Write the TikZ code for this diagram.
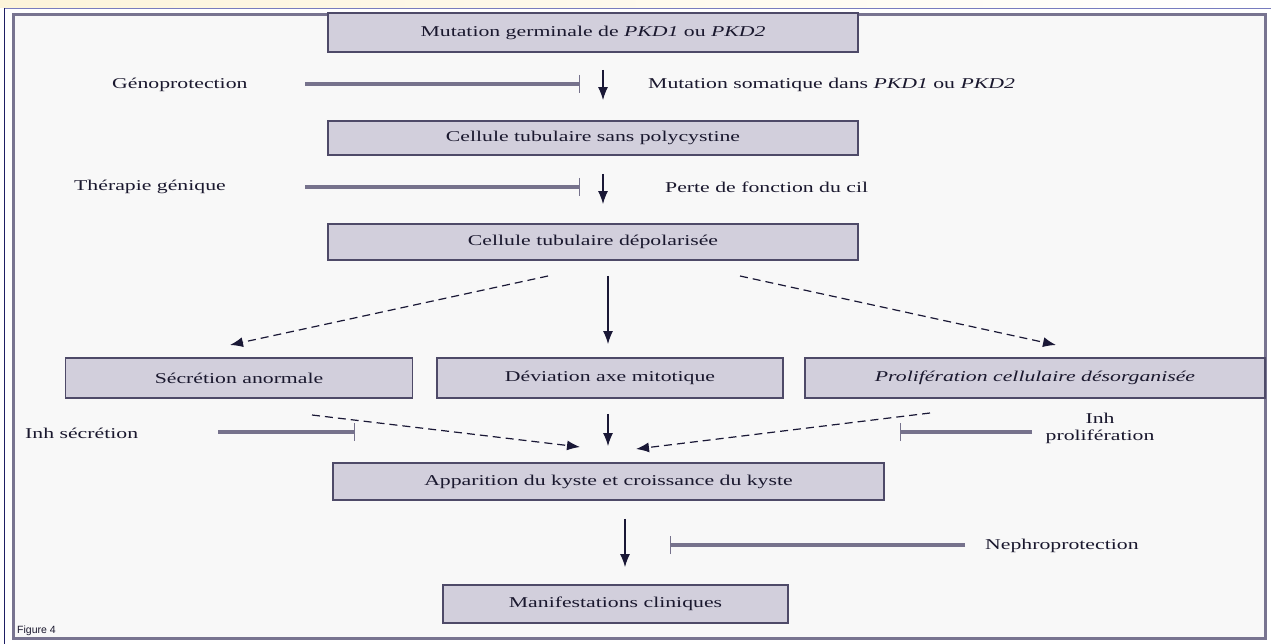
\documentclass[tikz,border=0pt]{standalone}
\usepackage{fontspec}
\setmainfont[FakeStretch=1.45]{Liberation Serif}
\setsansfont{Liberation Sans}
\usetikzlibrary{arrows.meta}
\definecolor{topy}{RGB}{252,244,218}
\definecolor{topblue}{RGB}{120,124,190}
\definecolor{navy}{RGB}{30,30,100}
\definecolor{framec}{RGB}{120,116,144}
\definecolor{bg}{RGB}{248,248,248}
\definecolor{boxfill}{RGB}{210,207,220}
\definecolor{boxline}{RGB}{78,74,104}
\definecolor{txt}{RGB}{26,24,46}
\definecolor{arrc}{RGB}{26,24,54}
\definecolor{inhc}{RGB}{118,114,140}
\tikzset{
  box/.style={draw=boxline, fill=boxfill, line width=1.8pt, inner sep=0pt, text=txt, font=\fontsize{15}{17}\selectfont},
  lab/.style={inner sep=0pt, text=txt, font=\fontsize{15}{17}\selectfont},
  arr/.style={draw=arrc, line width=1.2pt, -{Latex[length=13pt,width=10pt]}},
  darr/.style={arr, dash pattern=on 8pt off 5pt},
  inh/.style={draw=inhc, line width=3.2pt, -{Bar[width=18pt,line width=1.3pt]}},
}
\begin{document}
\begin{tikzpicture}[x=1pt,y=-1pt]
\useasboundingbox (0,0) rectangle (1271,644);
\fill[white] (0,0) rectangle (1271,644);
\shade[left color=topy, right color=white] (0,0) rectangle (1271,8);
\draw[topblue, line width=1.2pt] (4,8.5) -- (1271,8.5);
\draw[navy, line width=1.5pt] (4.5,8) -- (4.5,644);
\draw[framec, line width=3.2pt, fill=bg] (13.5,14.5) rectangle (1265.5,638.5);

% boxes
\node[box, minimum width=530pt, minimum height=39pt] (b1) at (593,32.5) {Mutation germinale de \textit{PKD1} ou \textit{PKD2}};
\node[box, minimum width=530pt, minimum height=34pt] (b2) at (593,138) {Cellule tubulaire sans polycystine};
\node[box, minimum width=530pt, minimum height=36pt] (b3) at (593,242) {Cellule tubulaire dépolarisée};
\node[box, minimum width=347pt, minimum height=40pt] (b4) at (239,378) {Sécrétion anormale};
\node[box, minimum width=346pt, minimum height=40pt] (b5) at (610,378) {Déviation axe mitotique};
\node[box, minimum width=460pt, minimum height=40pt] (b6) at (1035,378) {\textit{Prolifération cellulaire désorganisée}};
\node[box, minimum width=551pt, minimum height=37pt] (b7) at (608.5,481.5) {Apparition du kyste et croissance du kyste};
\node[box, minimum width=345pt, minimum height=38pt] (b8) at (615.5,604) {Manifestations cliniques};

% labels
\node[lab, anchor=west] (geno) at (112,85) {Génoprotection};
\node[lab, anchor=west] (msom) at (648,85) {Mutation somatique dans \textit{PKD1} ou \textit{PKD2}};
\node[lab, anchor=west] (ther) at (74,187) {Thérapie génique};
\node[lab, anchor=west] (perte) at (665,187) {Perte de fonction du cil};
\node[lab, anchor=west] (inhs) at (25,433) {Inh sécrétion};
\node[lab, align=center] (inhp) at (1100,428) {Inh\\prolifération};
\node[lab, anchor=west] (nephro) at (985,546) {Nephroprotection};
\node[inner sep=0pt, anchor=west, text=txt, font=\sffamily\fontsize{10.5}{12}\selectfont] (fig) at (17,631) {Figure 4};

% coordinates for inhibitor lines and dashed arrows
\coordinate (g1) at (305,84);   \coordinate (g2) at (580,84);
\coordinate (t1) at (305,187);  \coordinate (t2) at (580,187);
\coordinate (s1) at (218,432);  \coordinate (s2) at (355,432);
\coordinate (p1) at (1032,432); \coordinate (p2) at (900,432);
\coordinate (n1) at (965,545);  \coordinate (n2) at (670,545);
\coordinate (dl1) at (548,276); \coordinate (dl2) at (230,345);
\coordinate (dr1) at (740,276); \coordinate (dr2) at (1056,345);
\coordinate (ds1) at (312,415); \coordinate (ds2) at (580,447);
\coordinate (dp1) at (930,413); \coordinate (dp2) at (636,449);

% main arrows
\draw[arr, shorten <=17pt, shorten >=20pt] ([xshift=10pt]b1.south) -- ([xshift=10pt]b2.north);
\draw[arr, shorten <=18pt, shorten >=19pt] ([xshift=10pt]b2.south) -- ([xshift=10pt]b3.north);
\draw[arr, shorten <=15pt, shorten >=13pt] ([xshift=15pt]b3.south) -- ([xshift=-2pt]b5.north);
\draw[arr, shorten <=15pt, shorten >=16pt] ([xshift=-2pt]b5.south) -- ([xshift=-0.5pt]b7.north);
\draw[arr, shorten <=18pt, shorten >=17pt] ([xshift=16.5pt]b7.south) -- ([xshift=9.5pt]b8.north);

% dashed arrows
\draw[darr] (dl1) -- (dl2);
\draw[darr] (dr1) -- (dr2);
\draw[darr] (ds1) -- (ds2);
\draw[darr] (dp1) -- (dp2);

% inhibitors
\draw[inh] (g1) -- (g2);
\draw[inh] (t1) -- (t2);
\draw[inh] (s1) -- (s2);
\draw[inh] (p1) -- (p2);
\draw[inh] (n1) -- (n2);
\end{tikzpicture}
\end{document}
